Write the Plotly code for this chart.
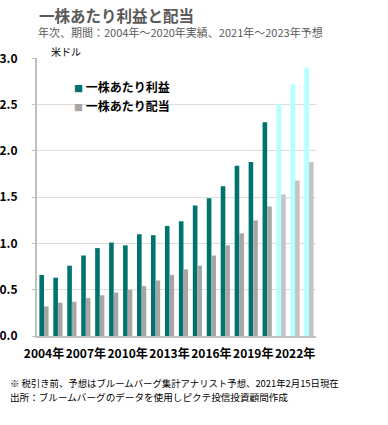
import plotly.graph_objects as go

years = list(range(2004, 2024))
eps = [0.66, 0.63, 0.76, 0.87, 0.95, 1.01, 0.98, 1.10, 1.09, 1.19, 1.24, 1.41, 1.49, 1.62, 1.84, 1.88, 2.31, 2.51, 2.72, 2.90]
dps = [0.32, 0.36, 0.37, 0.41, 0.44, 0.47, 0.50, 0.54, 0.60, 0.66, 0.72, 0.76, 0.87, 0.98, 1.11, 1.25, 1.40, 1.53, 1.68, 1.88]
forecast_from = 2021
tick_years = [2004, 2007, 2010, 2013, 2016, 2019, 2022]
tick_labels = [f"{y}年" for y in tick_years]

TEAL = "#00736E"
CYAN = "#B5FFFF"
GRAY = "#A6A6A6"
LGRAY = "#C4C4C4"
FONT = "Noto Sans CJK JP"

eps_colors = [CYAN if y >= forecast_from else TEAL for y in years]
dps_colors = [LGRAY if y >= forecast_from else GRAY for y in years]

L, R, T, B = 37, 72, 58, 89
W, H = 388, 425

def px_x(x):
    return (x - L) / (W - L - R)

def px_y(y):
    return (H - B - y) / (H - T - B)

def legend_name(color, label):
    return f'<span style="color:{color};font-size:9px">■</span> {label}'

fig = go.Figure()
fig.add_trace(go.Bar(x=years, y=eps, name="一株あたり利益", marker_color=eps_colors,
                     marker_line_width=0, showlegend=False))
fig.add_trace(go.Bar(x=years, y=dps, name="一株あたり配当", marker_color=dps_colors,
                     marker_line_width=0, showlegend=False))
# legend entries
fig.add_trace(go.Scatter(x=[None], y=[None], mode="markers",
                         name=legend_name(TEAL, "一株あたり利益"),
                         marker=dict(symbol="square", size=1, color="rgba(0,0,0,0)")))
fig.add_trace(go.Scatter(x=[None], y=[None], mode="markers",
                         name=legend_name(GRAY, "一株あたり配当"),
                         marker=dict(symbol="square", size=1, color="rgba(0,0,0,0)")))

fig.update_layout(
    width=W, height=H,
    margin=dict(l=L, r=R, t=T, b=B, autoexpand=False),
    paper_bgcolor="white", plot_bgcolor="white",
    barmode="group", bargap=0.34, bargroupgap=0,
    font=dict(family=FONT, color="black"),
    showlegend=True,
    legend=dict(x=px_x(34), y=px_y(73), xanchor="left", yanchor="top",
                font=dict(size=12, family=FONT, color="black", weight="bold"),
                bgcolor="rgba(0,0,0,0)", itemwidth=30, tracegroupgap=0,
                itemsizing="constant"),
    xaxis=dict(range=[2003.5, 2023.5], tickmode="array", tickvals=tick_years,
               ticktext=tick_labels, showgrid=False, showline=True,
               linecolor="#BFBFBF", linewidth=2, ticks="", tickangle=0,
               automargin=False, ticklabelstandoff=6,
               tickfont=dict(size=12, family=FONT, color="black", weight="bold"),
               fixedrange=True),
    yaxis=dict(range=[0, 3.005], tickvals=[0, 0.5, 1.0, 1.5, 2.0, 2.5, 3.0],
               ticktext=["0.0", "0.5", "1.0", "1.5", "2.0", "2.5", "3.0"],
               showgrid=True, gridcolor="#DDDDDD", gridwidth=1,
               showline=True, linecolor="#BFBFBF", linewidth=2,
               ticks="outside", ticklen=3, tickcolor="#BFBFBF",
               ticklabelstandoff=12, zeroline=False, automargin=False,
               tickfont=dict(size=12, family=FONT, color="black", weight="bold"),
               fixedrange=True),
)

fig.layout.annotations = [
    dict(text="一株あたり利益と配当", x=px_x(37), y=px_y(15), xref="paper", yref="paper",
         xanchor="left", yanchor="middle", showarrow=False,
         font=dict(size=15.5, family=FONT, color="#595959", weight="bold")),
    dict(text="年次、期間：2004年～2020年実績、2021年～2023年予想", x=px_x(36), y=px_y(32),
         xref="paper", yref="paper", xanchor="left", yanchor="middle", showarrow=False,
         font=dict(size=11, family=FONT, color="#595959")),
    dict(text="米ドル", x=px_x(49), y=px_y(52), xref="paper", yref="paper",
         xanchor="left", yanchor="middle", showarrow=False,
         font=dict(size=10, family=FONT, color="black")),
    dict(text="※ 税引き前、予想はブルームバーグ集計アナリスト予想、2021年2月15日現在", x=px_x(8), y=px_y(383),
         xref="paper", yref="paper", xanchor="left", yanchor="middle", showarrow=False,
         font=dict(size=9.4, family=FONT, color="black")),
    dict(text="出所：ブルームバーグのデータを使用しピクテ投信投資顧問作成", x=px_x(8), y=px_y(397),
         xref="paper", yref="paper", xanchor="left", yanchor="middle", showarrow=False,
         font=dict(size=9.6, family=FONT, color="black")),
]

fig.write_html("out.html", config={"displayModeBar": False},
               post_script="document.body.style.margin='0';")
